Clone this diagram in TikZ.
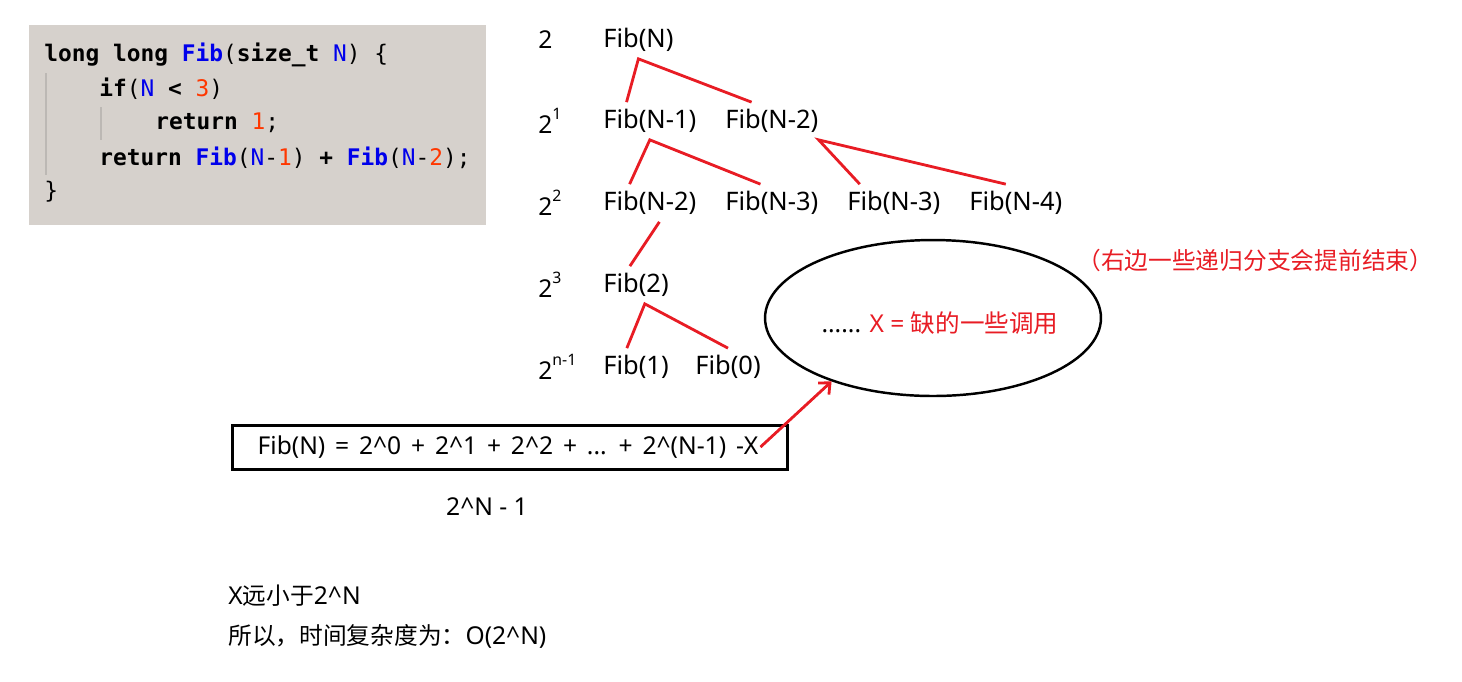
\documentclass[tikz,border=0pt]{standalone}
\usepackage{fontspec}
\setmainfont{Noto Sans}
\newfontfamily\cjk{Noto Sans CJK SC}
\newfontfamily\codefont{DejaVu Sans Mono}
\usetikzlibrary{shapes.geometric,arrows.meta}
\definecolor{codebg}{RGB}{214,209,204}
\definecolor{guide}{RGB}{188,184,180}
\definecolor{kwblue}{RGB}{0,0,235}
\definecolor{numred}{RGB}{255,55,0}
\definecolor{linered}{RGB}{232,28,36}
\newcommand{\crt}{\textasciicircum}
\newcommand{\kw}[1]{\textbf{#1}}
\newcommand{\fn}[1]{\textcolor{kwblue}{\textbf{#1}}}
\newcommand{\vr}[1]{\textcolor{kwblue}{#1}}
\newcommand{\nm}[1]{\textcolor{numred}{#1}}

\begin{document}
\begin{tikzpicture}[x=0.02cm,y=-0.02cm,
        codeline/.style={anchor=west,inner sep=0pt,font=\codefont\fontsize{13}{15}\selectfont},
        level/.style={anchor=west,inner sep=0pt,font=\fontsize{14}{16}\selectfont},
        call/.style={anchor=west,inner sep=0pt,minimum height=0.74cm,font=\fontsize{14.5}{16}\selectfont},
        edge/.style={draw=linered,line width=1.6pt},
        plain/.style={anchor=west,inner sep=0pt,font=\fontsize{14}{16}\selectfont}]
    \useasboundingbox (0,0) rectangle (1462,681);

    % Code
    \fill[codebg] (29,25) rectangle (486,225);
    \draw[guide,line width=1.2pt] (46,73) -- (46,175);
    \draw[guide,line width=1.2pt] (101,107) -- (101,140);
    \node[codeline] (c1) at (44,55) {\kw{long long} \fn{Fib}(\kw{size\_t} \vr{N}) \{};
    \node[codeline] (c2) at (99,89) {\kw{if}(\vr{N} \kw{<} \nm{3})};
    \node[codeline] (c3) at (155,123) {\kw{return} \nm{1};};
    \node[codeline] (c4) at (99,158) {\kw{return} \fn{Fib}(\vr{N}-\nm{1}) \kw{+} \fn{Fib}(\vr{N}-\nm{2});};
    \node[codeline] (c5) at (44,192) {\}};

    % Levels
    \node[level] (l0) at (538,40) {2};
    \node[level] (l1) at (538,121) {2\raisebox{0.55em}{\fontsize{9}{10}\selectfont 1}};
    \node[level] (l2) at (538,203) {2\raisebox{0.55em}{\fontsize{9}{10}\selectfont 2}};
    \node[level] (l3) at (538,285) {2\raisebox{0.55em}{\fontsize{9}{10}\selectfont 3}};
    \node[level] (l4) at (538,367) {2\raisebox{0.55em}{\fontsize{9}{10}\selectfont n-1}};

    % Level 0
    \node[call] (n) at (603,40) {Fib(N)};

    % Level 1
    \node[call] (a1) at (603,121) {Fib(N-1)};
    \node[call] (a2) at (725,121) {Fib(N-2)};

    % Level 2
    \node[call] (b1) at (603,203) {Fib(N-2)};
    \node[call] (b2) at (725,203) {Fib(N-3)};
    \node[call] (b3) at (847,203) {Fib(N-3)};
    \node[call] (b4) at (969,203) {Fib(N-4)};

    % Level 3
    \node[call] (f2) at (603,285) {Fib(2)};

    % Level 4
    \node[call] (f1) at (603,367) {Fib(1)};
    \node[call] (f0) at (695,367) {Fib(0)};

    % Edges
    \draw[edge] (a1.141) -- (n.south) -- (a2.137);
    \draw[edge] (b1.137) -- (a1.south) -- (b2.121);
    \draw[edge] (b3.151) -- (a2.south east) -- (b4.118);
    \draw[edge] (b1.-63) -- (f2.108);
    \draw[edge] (f1.116) -- (f2.-65) -- (f0.north);

    % Missing calls
    \node[draw,ellipse,line width=1.4pt,minimum width=6.72cm,minimum height=3.12cm] (oval) at (933,318) {};
    \node[inner sep=0pt,font=\fontsize{14}{16}\selectfont] (miss) at (940,323) {...... \textcolor{linered}{X = {\cjk 缺的一些调用}}};
    \node[plain,text=linered,font=\cjk\fontsize{13.5}{16}\selectfont] (note) at (1077,260) {（右边一些递归分支会提前结束）};

    % Sum
    \node[inner sep=1pt,font=\fontsize{14}{16}\selectfont] (sum) at (508,447) {\spaceskip=0.4em\relax Fib(N) = 2\crt0 + 2\crt1 + 2\crt2 + ... + 2\crt(N-1) -X};
    \node[draw,line width=1.7pt,minimum width=11.12cm,minimum height=0.88cm] (box) at (510,447) {};
    \draw[edge,-{Straight Barb[length=5pt,width=9pt]}] (sum.east) -- (oval.212);
    \node[inner sep=0pt,font=\fontsize{14}{16}\selectfont] (total) at (487,507) {2\crt N - 1};

    % Conclusion
    \node[plain] (t1) at (228,596) {X{\cjk\fontsize{13.5}{16}\selectfont 远小于}2\crt N};
    \node[plain] (t2) at (228,636) {{\cjk\fontsize{13.5}{16}\selectfont 所以，时间复杂度为：}O(2\crt N)};
\end{tikzpicture}
\end{document}
